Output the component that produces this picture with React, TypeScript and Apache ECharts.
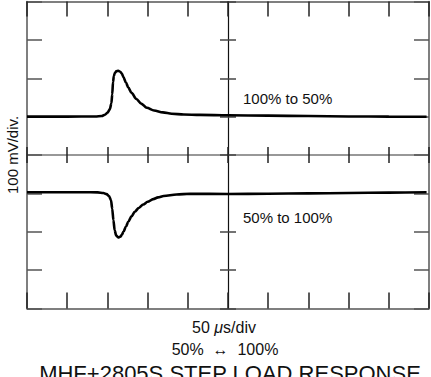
import React, { useEffect, useRef } from "react";
import * as echarts from "echarts";

// Time axis (µs) and voltage axis (mV)
const xTicks = { min: 0, max: 500, interval: 50 };
const yTicks = { min: -400, max: 400, interval: 100 };

// Upper trace: 100% to 50% load step (x µs, y mV)
const upperX = [0, 50, 85, 93, 97, 100, 103, 105, 106, 107, 108, 109.5, 111, 113.5, 116, 118, 120, 123, 126, 130, 136, 142, 149, 158, 169, 180, 195, 215, 250, 300, 350, 400, 450, 497];
const upperY = [100, 100, 100.5, 101.5, 105, 110, 119, 135, 158, 190, 206, 214, 218, 219.5, 217, 212, 203, 189, 176, 162, 146, 134, 123, 116, 111, 107.5, 105.5, 104.5, 103.5, 102.5, 101.5, 100.5, 100, 99.5];

// Lower trace: 50% to 100% load step
const lowerX = [0, 70, 88, 95, 99, 102, 104.5, 106, 107.5, 109, 111, 113.5, 116, 118, 120, 123, 126, 130, 134, 139, 144.6, 150, 157, 163, 170, 186, 203, 250, 300, 350, 400, 450, 497];
const lowerY = [-97, -97, -97.5, -99, -102, -107, -118, -140, -170, -196, -210, -215, -213, -208, -200, -187, -174, -160, -148, -138, -129, -122, -115, -110.5, -107, -103, -101, -101.5, -101, -100, -99, -98, -97];

const labels = {
  upper: "100% to 50%",
  lower: "50% to 100%",
  yName: "100 mV/div.",
  xName1: "50 ",
  xName2: "μ",
  xName3: "s/div",
  sub: "50%  ↔  100%",
  title: "MHF+2805S STEP LOAD RESPONSE",
};

const FONT = '"Liberation Sans", Arial, Helvetica, sans-serif';

export default function App() {
  const ref = useRef<HTMLDivElement>(null);
  useEffect(() => {
    if (!ref.current) return;
    const chart = echarts.init(ref.current, undefined, { renderer: "svg" });
    const gridW = 402;
    const gridH = 307;
    const base = {
      type: "value" as const,
      min: xTicks.min,
      max: xTicks.max,
      interval: xTicks.interval,
      axisLabel: { show: false },
      splitLine: { show: false },
    };
    const ybase = {
      type: "value" as const,
      min: yTicks.min,
      max: yTicks.max,
      interval: yTicks.interval,
      axisLabel: { show: false },
      splitLine: { show: false },
    };
    const border = { show: true, onZero: false, lineStyle: { color: "#555", width: 1.5 } };
    chart.setOption({
      animation: false,
      grid: { left: 27, top: 1.5, width: gridW, height: gridH, containLabel: false },
      xAxis: [
        { ...base, position: "bottom", axisLine: border, axisTick: { inside: true, length: 16, lineStyle: { color: "#222", width: 1.5 } } },
        { ...base, position: "top", axisLine: border, axisTick: { inside: true, length: 15, lineStyle: { color: "#222", width: 1.5 } } },
        { ...base, position: "bottom", offset: -gridH / 2, axisLine: { show: true, onZero: false, lineStyle: { color: "#777", width: 1.5 } }, axisTick: { inside: true, length: 8, lineStyle: { color: "#222", width: 1.5 } } },
        { ...base, position: "top", offset: -gridH / 2, axisLine: { show: false, onZero: false }, axisTick: { inside: true, length: 8, lineStyle: { color: "#222", width: 1.5 } } },
      ],
      yAxis: [
        { ...ybase, position: "left", axisLine: border, axisTick: { inside: true, length: 15, lineStyle: { color: "#555", width: 1.5 } } },
        { ...ybase, position: "right", axisLine: border, axisTick: { inside: true, length: 15, lineStyle: { color: "#555", width: 1.5 } } },
        { ...ybase, position: "left", offset: -gridW / 2, axisLine: { show: true, onZero: false, lineStyle: { color: "#111", width: 1.2 } }, axisTick: { inside: true, length: 8, lineStyle: { color: "#444", width: 1.5 } } },
        { ...ybase, position: "right", offset: -gridW / 2, axisLine: { show: false, onZero: false }, axisTick: { inside: true, length: 8, lineStyle: { color: "#444", width: 1.5 } } },
      ],
      series: [
        {
          type: "line",
          xAxisIndex: 0,
          yAxisIndex: 0,
          data: upperX.map((x, i) => [x, upperY[i]]),
          showSymbol: false,
          smooth: 0.3,
          smoothMonotone: "x",
          lineStyle: { color: "#000", width: 2.6 },
          z: 5,
        },
        {
          type: "line",
          xAxisIndex: 0,
          yAxisIndex: 0,
          data: lowerX.map((x, i) => [x, lowerY[i]]),
          showSymbol: false,
          smooth: 0.3,
          smoothMonotone: "x",
          lineStyle: { color: "#000", width: 2.6 },
          z: 5,
        },
      ],
      graphic: [
        { type: "text", x: 243, y: 98, style: { text: labels.upper, fontSize: 15, fontFamily: FONT, fill: "#111", align: "left", verticalAlign: "middle" } },
        { type: "text", x: 243, y: 217, style: { text: labels.lower, fontSize: 15, fontFamily: FONT, fill: "#111", align: "left", verticalAlign: "middle" } },
        { type: "text", x: 12, y: 155, rotation: Math.PI / 2, style: { text: labels.yName, fontSize: 15, fontFamily: FONT, fill: "#111", align: "center", verticalAlign: "middle" } },
        {
          type: "text",
          x: 224,
          y: 327,
          style: {
            text: `{a|${labels.xName1}}{b|${labels.xName2}}{a|${labels.xName3}}`,
            align: "center",
            verticalAlign: "middle",
            rich: {
              a: { fontSize: 16, fontFamily: FONT, fill: "#111", color: "#111" },
              b: { fontSize: 16, fontFamily: FONT, fontStyle: "italic", fill: "#111", color: "#111" },
            },
          },
        },
        { type: "text", x: 225, y: 349, style: { text: labels.sub, fontSize: 16, fontFamily: FONT, fill: "#111", align: "center", verticalAlign: "middle" } },
        { type: "text", x: 230, y: 373, style: { text: labels.title, fontSize: 22, fontFamily: FONT, fill: "#111", align: "center", verticalAlign: "middle" } },
      ],
    });
    return () => chart.dispose();
  }, []);
  return <div ref={ref} style={{ position: "fixed", left: 0, top: 0, width: 431, height: 377, background: "#fff" }} />;
}
